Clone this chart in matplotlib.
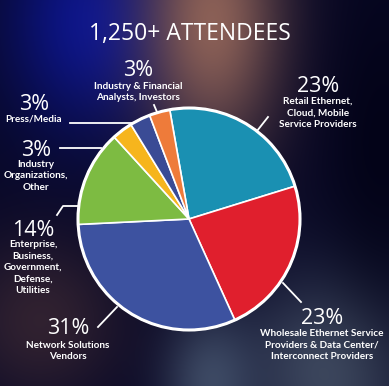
import numpy as np
import matplotlib.pyplot as plt

# data
shares = [23, 23, 31, 14, 3, 3, 3]
pct_labels = ["23%", "23%", "31%", "14%", "3%", "3%", "3%"]
names = [
    "Retail Ethernet,\nCloud, Mobile\nService Providers",
    "Wholesale Ethernet Service\nProviders & Data Center/\nInterconnect Providers",
    "Network Solutions\nVendors",
    "Enterprise,\nBusiness,\nGovernment,\nDefense,\nUtilities",
    "Industry\nOrganizations,\nOther",
    "Press/Media",
    "Industry & Financial\nAnalysts, Investors",
]
colors = ["#1a90b2", "#e01f2d", "#3d52a0", "#7dbb42", "#f6b51d", "#3a4b95", "#ee7b3a"]

W, H = 389, 386
fig = plt.figure(figsize=(W / 100, H / 100), dpi=100)
ax = fig.add_axes([0, 0, 1, 1])

# blurry dark background (row 0 = top of picture)
yy, xx = np.mgrid[0:H, 0:W]
img = np.zeros((H, W, 3))
img[:] = np.array([8, 8, 38]) / 255


def blob(cx, cy, sx, sy, col, a=1.0):
    g = a * np.exp(-(((xx - cx) / sx) ** 2 + ((yy - cy) / sy) ** 2) / 2)
    return g[..., None] * (np.array(col) / 255 - img)


img += blob(90, 20, 60, 80, [12, 22, 150], 0.9)
img += blob(212, 20, 50, 95, [145, 100, 88], 0.95)
img += blob(330, 370, 60, 70, [85, 100, 120], 0.7)
img += blob(210, 380, 35, 50, [90, 110, 135], 0.6)
img += blob(40, 320, 60, 60, [75, 50, 55], 0.6)
img += blob(380, 150, 40, 120, [0, 0, 15], 0.6)
img = np.clip(img, 0, 1)
ax.imshow(img, extent=(0, W, 0, H), origin="upper", zorder=0)

cx, cy, r = 189, H - 219, 111
ax.pie(shares, colors=colors, startangle=100, counterclock=False,
       center=(cx, cy), radius=r, frame=True,
       wedgeprops=dict(edgecolor="white", linewidth=1.2))
ax.add_patch(plt.Circle((cx, cy), r, fill=False, edgecolor="white", linewidth=2.2, zorder=5))
ax.set_xlim(0, W)
ax.set_ylim(0, H)
ax.set_aspect("equal")
ax.axis("off")

big = ["Open Sans", "DejaVu Sans"]
small = ["Lato", "DejaVu Sans"]
fig.text(190 / W, 1 - 34 / H, "1,250+ ATTENDEES", color="white", fontsize=16.5,
         family=big, ha="center", va="center")

# label layout: (pct x, pct y, name y top) in image pixels
layout = [
    (318, 86, 97),
    (322, 318, 329),
    (68, 329, 341),
    (33, 230, 240),
    (36, 150, 160),
    (34, 104, 115),
    (138, 70, 82),
]
for (px, py, ny), pct, name in zip(layout, pct_labels, names):
    ax.text(px, H - py, pct, color="white", fontsize=15.5, family=big,
            ha="center", va="center")
    ax.text(px, H - ny, name, color="white", fontsize=7.2, family=small,
            fontweight="bold", ha="center", va="top", linespacing=1.35)

# leader lines
leaders = [
    [(257, 131), (268, 117)],
    [(283, 283), (301, 302)],
    [(98, 327), (117, 307)],
    [(57, 215), (63, 206), (79, 206)],
    [(60, 148), (101, 148)],
    [(70, 123), (133, 123)],
    [(154, 105), (157, 112)],
]
for pts in leaders:
    xs = [p[0] for p in pts]
    ys = [H - p[1] for p in pts]
    ax.plot(xs, ys, color="white", linewidth=1.3, zorder=4)

fig.savefig("out.png", dpi=100)
